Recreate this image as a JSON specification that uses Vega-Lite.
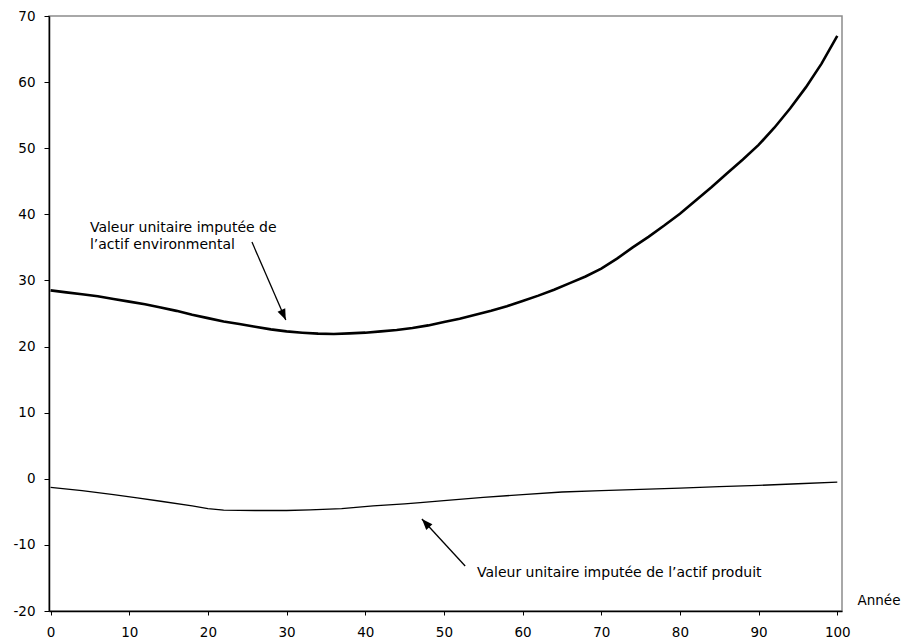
{
  "$schema": "https://vega.github.io/schema/vega-lite/v6.json",
  "width": 793,
  "height": 595,
  "autosize": {"type": "none"},
  "padding": {"left": 49, "top": 16, "right": 72, "bottom": 31},
  "background": "white",
  "config": {
    "font": "DejaVu Sans",
    "view": {"stroke": "#8c8c8c", "strokeWidth": 1.5},
    "axis": {
      "domainColor": "#000", "domainWidth": 1.5, "tickColor": "#000", "tickWidth": 1,
      "labelColor": "#000", "labelFontSize": 13.5, "labelFont": "DejaVu Sans",
      "grid": false, "titleColor": "#000", "titleFontWeight": "normal", "titleFontSize": 13.5, "titleFont": "DejaVu Sans"
    }
  },
  "datasets": {
    "env": [
      {"annee": 0, "v": 28.5}, {"annee": 2, "v": 28.2}, {"annee": 4, "v": 27.9}, {"annee": 6, "v": 27.6},
      {"annee": 8, "v": 27.2}, {"annee": 10, "v": 26.8}, {"annee": 12, "v": 26.4}, {"annee": 14, "v": 25.9},
      {"annee": 16, "v": 25.4}, {"annee": 18, "v": 24.8}, {"annee": 20, "v": 24.3}, {"annee": 22, "v": 23.8},
      {"annee": 24, "v": 23.4}, {"annee": 26, "v": 23.0}, {"annee": 28, "v": 22.6}, {"annee": 30, "v": 22.3},
      {"annee": 32, "v": 22.1}, {"annee": 34, "v": 21.95}, {"annee": 36, "v": 21.9}, {"annee": 38, "v": 22.0},
      {"annee": 40, "v": 22.1}, {"annee": 42, "v": 22.3}, {"annee": 44, "v": 22.5}, {"annee": 46, "v": 22.8},
      {"annee": 48, "v": 23.2}, {"annee": 50, "v": 23.7}, {"annee": 52, "v": 24.2}, {"annee": 54, "v": 24.8},
      {"annee": 56, "v": 25.4}, {"annee": 58, "v": 26.1}, {"annee": 60, "v": 26.9}, {"annee": 62, "v": 27.7},
      {"annee": 64, "v": 28.6}, {"annee": 66, "v": 29.6}, {"annee": 68, "v": 30.6}, {"annee": 70, "v": 31.8},
      {"annee": 72, "v": 33.3}, {"annee": 74, "v": 35.0}, {"annee": 76, "v": 36.6}, {"annee": 78, "v": 38.3},
      {"annee": 80, "v": 40.1}, {"annee": 82, "v": 42.1}, {"annee": 84, "v": 44.1}, {"annee": 86, "v": 46.2},
      {"annee": 88, "v": 48.3}, {"annee": 90, "v": 50.5}, {"annee": 92, "v": 53.1}, {"annee": 94, "v": 56.0},
      {"annee": 96, "v": 59.2}, {"annee": 98, "v": 62.8}, {"annee": 100, "v": 67.0}
    ],
    "prod": [
      {"annee": 0, "v": -1.3}, {"annee": 4, "v": -1.8}, {"annee": 8, "v": -2.4}, {"annee": 11, "v": -2.9},
      {"annee": 14, "v": -3.4}, {"annee": 18, "v": -4.1}, {"annee": 20, "v": -4.5}, {"annee": 22, "v": -4.75},
      {"annee": 26, "v": -4.8}, {"annee": 30, "v": -4.8}, {"annee": 33, "v": -4.7}, {"annee": 37, "v": -4.5},
      {"annee": 41, "v": -4.1}, {"annee": 45, "v": -3.8}, {"annee": 47, "v": -3.6}, {"annee": 50, "v": -3.3},
      {"annee": 55, "v": -2.8}, {"annee": 60, "v": -2.4}, {"annee": 65, "v": -2.0}, {"annee": 70, "v": -1.8},
      {"annee": 75, "v": -1.6}, {"annee": 80, "v": -1.4}, {"annee": 85, "v": -1.2}, {"annee": 90, "v": -1.0},
      {"annee": 95, "v": -0.75}, {"annee": 100, "v": -0.5}
    ],
    "labels": [
      {"x": 5.0, "y": 37.3, "t": "Valeur unitaire imputée de"},
      {"x": 5.0, "y": 34.76, "t": "l’actif environmental"},
      {"x": 54.2, "y": -14.86, "t": "Valeur unitaire imputée de l’actif produit"}
    ],
    "arrows": [
      {"x": 25.6, "y": 35.8, "x2": 29.9, "y2": 24.0, "ang": 156.4},
      {"x": 52.7, "y": -13.2, "x2": 47.2, "y2": -6.08, "ang": 317.5}
    ]
  },
  "layer": [
    {
      "mark": {"type": "rule", "color": "#000", "strokeWidth": 1.5},
      "encoding": {"y": {"datum": 0, "type": "quantitative", "scale": {"domain": [-20, 70], "nice": false}}}
    },
    {
      "data": {"name": "env"},
      "mark": {"type": "line", "color": "#000", "strokeWidth": 2.6},
      "encoding": {
        "x": {"field": "annee", "type": "quantitative", "scale": {"domain": [-0.2, 100.6], "nice": false, "zero": false},
              "axis": {"values": [0, 10, 20, 30, 40, 50, 60, 70, 80, 90, 100], "tickSize": 4, "labelPadding": 10,
                       "title": "Année", "titleX": 808, "titleY": -11, "titleAlign": "left", "titleBaseline": "middle", "titleAnchor": null}},
        "y": {"field": "v", "type": "quantitative", "scale": {"domain": [-20, 70], "nice": false},
              "axis": {"values": [-20, -10, 0, 10, 20, 30, 40, 50, 60, 70], "tickSize": 5, "labelPadding": 9, "title": null,
                       "labelExpr": "toString(datum.value)"}}
      }
    },
    {
      "data": {"name": "prod"},
      "mark": {"type": "line", "color": "#000", "strokeWidth": 1.3},
      "encoding": {
        "x": {"field": "annee", "type": "quantitative"},
        "y": {"field": "v", "type": "quantitative"}
      }
    },
    {
      "data": {"name": "arrows"},
      "mark": {"type": "rule", "color": "#000", "strokeWidth": 1.3},
      "encoding": {
        "x": {"field": "x", "type": "quantitative"},
        "y": {"field": "y", "type": "quantitative"},
        "x2": {"field": "x2"},
        "y2": {"field": "y2"}
      }
    },
    {
      "data": {"name": "arrows"},
      "mark": {"type": "point", "shape": "M0,0L0.38,1L-0.38,1Z", "filled": true, "color": "#000", "opacity": 1, "size": 484},
      "encoding": {
        "x": {"field": "x2", "type": "quantitative"},
        "y": {"field": "y2", "type": "quantitative"},
        "angle": {"field": "ang", "type": "quantitative", "scale": null}
      }
    },
    {
      "data": {"name": "labels"},
      "mark": {"type": "text", "align": "left", "baseline": "alphabetic", "fontSize": 14, "font": "DejaVu Sans", "color": "#000"},
      "encoding": {
        "x": {"field": "x", "type": "quantitative"},
        "y": {"field": "y", "type": "quantitative"},
        "text": {"field": "t"}
      }
    }
  ]
}
